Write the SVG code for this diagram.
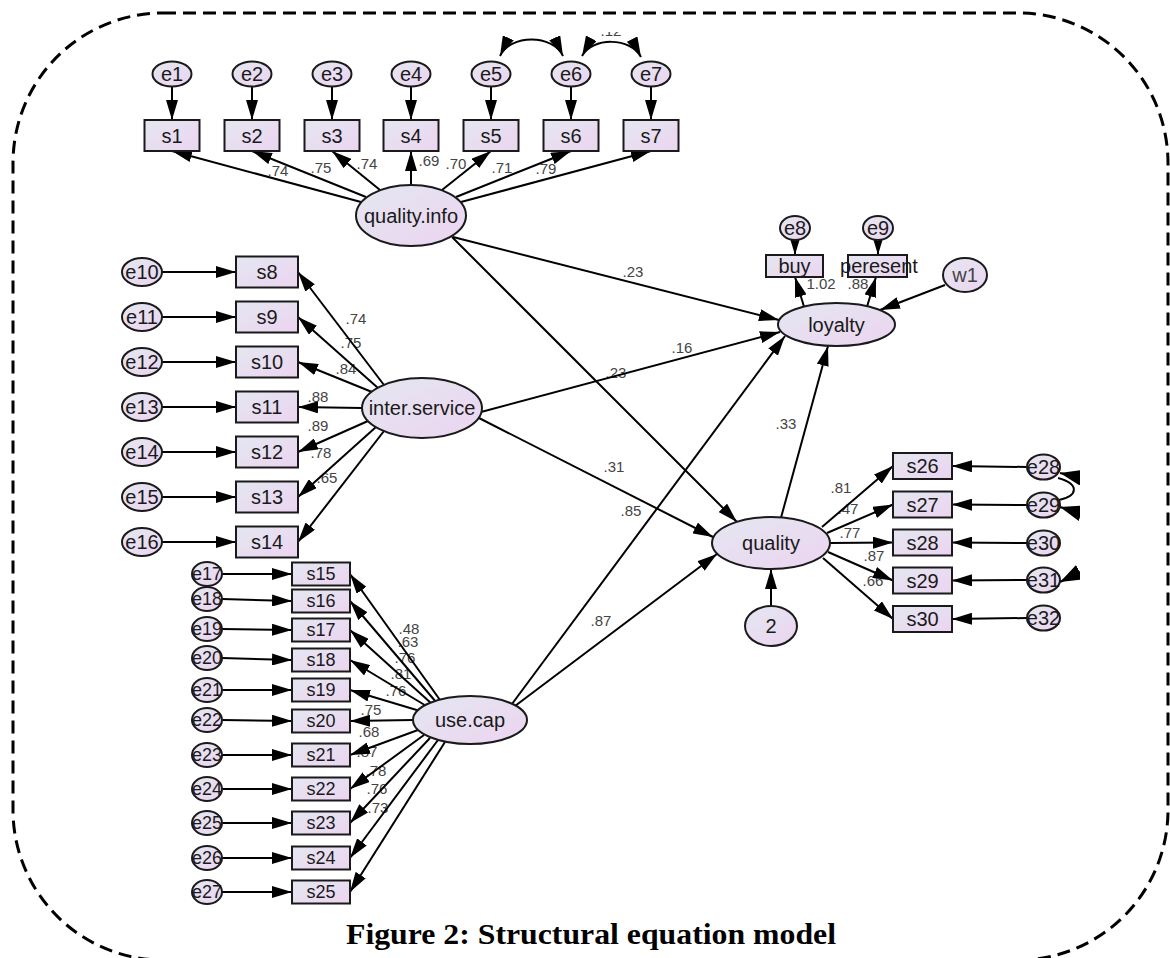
<svg xmlns="http://www.w3.org/2000/svg" width="1170" height="958" viewBox="0 0 1170 958">
<defs>
<linearGradient id="g" x1="0" y1="0" x2="1" y2="1">
<stop offset="0" stop-color="#e4e7f1"/>
<stop offset="1" stop-color="#ecd4f0"/>
</linearGradient>
<marker id="ah" viewBox="0 0 20 12" refX="20" refY="6" markerWidth="20" markerHeight="12" markerUnits="userSpaceOnUse" orient="auto">
<path d="M0,0 L20,6 L0,12 z" fill="#000"/>
</marker>
<marker id="ah2" viewBox="0 0 20 12" refX="20" refY="6" markerWidth="20" markerHeight="12" markerUnits="userSpaceOnUse" orient="auto-start-reverse">
<path d="M0,0 L20,6 L0,12 z" fill="#000"/>
</marker>
<marker id="ahb" viewBox="0 0 22 16" refX="22" refY="8" markerWidth="22" markerHeight="16" markerUnits="userSpaceOnUse" orient="auto">
<path d="M0,0 L22,8 L0,16 z" fill="#000"/>
</marker>
<clipPath id="clipR"><rect x="0" y="0" width="1080" height="958"/></clipPath>
<clipPath id="clipT"><rect x="0" y="32" width="1170" height="926"/></clipPath>
<style>
.n{fill:url(#g);stroke:#1a1a1a;stroke-width:2}
.t{font-family:"Liberation Sans",Arial,sans-serif;font-size:20px;fill:#1a1a1a;text-anchor:middle;dominant-baseline:central}
.ts{font-family:"Liberation Sans",Arial,sans-serif;font-size:18px;fill:#1a1a1a;text-anchor:middle;dominant-baseline:central}
.c{font-family:"Liberation Sans",Arial,sans-serif;font-size:15px;fill:#444;text-anchor:middle;dominant-baseline:central}
.l{stroke:#000;stroke-width:2;fill:none;marker-end:url(#ah)}
.lb{stroke:#000;stroke-width:2;fill:none;marker-end:url(#ahb)}
.b{stroke:#000;stroke-width:2;fill:none;marker-start:url(#ah2);marker-end:url(#ah2)}
.cap{font-family:"Liberation Serif","Times New Roman",serif;font-weight:bold;font-size:30px;fill:#000;text-anchor:middle}
</style>
</defs>
<rect x="13" y="13" width="1155" height="947" rx="150" ry="150" fill="none" stroke="#000" stroke-width="3" stroke-dasharray="13 7"/>

<g id="labels">
<text class="c" x="278" y="170">.74</text>
<text class="c" x="321" y="167">.75</text>
<text class="c" x="367" y="163">.74</text>
<text class="c" x="429" y="160">.69</text>
<text class="c" x="456" y="163">.70</text>
<text class="c" x="502" y="167">.71</text>
<text class="c" x="546" y="168">.79</text>
<text class="c" x="611" y="30" clip-path="url(#clipT)">.12</text>
<text class="c" x="356" y="318">.74</text>
<text class="c" x="351" y="342">.75</text>
<text class="c" x="346" y="368">.84</text>
<text class="c" x="318" y="396">.88</text>
<text class="c" x="318" y="425">.89</text>
<text class="c" x="321" y="452">.78</text>
<text class="c" x="327" y="477">.65</text>
<text class="c" x="409" y="628">.48</text>
<text class="c" x="408" y="641">.63</text>
<text class="c" x="405" y="657">.76</text>
<text class="c" x="401" y="673">.81</text>
<text class="c" x="396" y="690">.76</text>
<text class="c" x="371" y="709">.75</text>
<text class="c" x="369" y="731">.68</text>
<text class="c" x="367" y="751">.87</text>
<text class="c" x="376" y="770">.78</text>
<text class="c" x="377" y="788">.76</text>
<text class="c" x="378" y="807">.73</text>
<text class="c" x="633" y="271">.23</text>
<text class="c" x="682" y="347">.16</text>
<text class="c" x="616" y="372">.23</text>
<text class="c" x="614" y="466">.31</text>
<text class="c" x="631" y="510">.85</text>
<text class="c" x="601" y="620">.87</text>
<text class="c" x="786" y="423">.33</text>
<text class="c" x="821" y="283">1.02</text>
<text class="c" x="858" y="283">.88</text>
<text class="c" x="841" y="487">.81</text>
<text class="c" x="848" y="508">.47</text>
<text class="c" x="850" y="532">.77</text>
<text class="c" x="874" y="555">.87</text>
<text class="c" x="873" y="580">.66</text>
</g>

<g id="connectors">
<path class="l" d="M172,86.5 L172,120"/>
<path class="l" d="M252,86.5 L252,120"/>
<path class="l" d="M332,86.5 L332,120"/>
<path class="l" d="M411,86.5 L411,120"/>
<path class="l" d="M491,86.5 L491,120"/>
<path class="l" d="M571,86.5 L571,120"/>
<path class="l" d="M651,86.5 L651,120"/>
<path class="b" d="M500,56 C510,34 553,34 563,56"/>
<path class="b" d="M582,56 C592,37 631,37 641,57"/>
<path class="l" d="M361,202 L172,151"/>
<path class="l" d="M366,197 L252,151"/>
<path class="l" d="M380,190 L332,151"/>
<path class="l" d="M411,185 L411,151"/>
<path class="l" d="M442,190 L491,151"/>
<path class="l" d="M456,197 L571,151"/>
<path class="l" d="M461,202 L651,151"/>
<path class="l" d="M162,272 L236,272"/>
<path class="l" d="M162,317 L236,317"/>
<path class="l" d="M162,362 L236,362"/>
<path class="l" d="M162,407 L236,407"/>
<path class="l" d="M162,452 L236,452"/>
<path class="l" d="M162,497 L236,497"/>
<path class="l" d="M162,542 L236,542"/>
<path class="l" d="M384,385 L298,272"/>
<path class="l" d="M378,388 L298,317"/>
<path class="l" d="M372,392 L298,362"/>
<path class="l" d="M362,408 L298,407"/>
<path class="l" d="M368,421 L298,452"/>
<path class="l" d="M376,427 L298,497"/>
<path class="l" d="M384,431 L298,542"/>
<path class="l" d="M222,574 L292,574"/>
<path class="l" d="M222,599 L292,601"/>
<path class="l" d="M222,629 L292,630"/>
<path class="l" d="M222,658 L292,660"/>
<path class="l" d="M222,690 L292,690"/>
<path class="l" d="M222,720 L292,721"/>
<path class="l" d="M222,755 L292,755"/>
<path class="l" d="M222,789 L292,789"/>
<path class="l" d="M222,823 L292,823"/>
<path class="l" d="M222,858 L292,858"/>
<path class="l" d="M222,892 L292,892"/>
<path class="l" d="M440,700 L350,574"/>
<path class="l" d="M436,702 L350,601"/>
<path class="l" d="M432,704 L350,630"/>
<path class="l" d="M428,707 L350,660"/>
<path class="l" d="M420,711 L350,690"/>
<path class="l" d="M413,720 L350,721"/>
<path class="l" d="M418,730 L350,755"/>
<path class="l" d="M424,735 L350,789"/>
<path class="l" d="M430,738 L350,823"/>
<path class="l" d="M438,740 L350,858"/>
<path class="l" d="M445,742 L350,892"/>
<path class="l" d="M453,237 L779,320"/>
<path class="l" d="M452,237 L737,522"/>
<path class="l" d="M481,412 L780,332"/>
<path class="l" d="M479,418 L713,537"/>
<path class="l" d="M509,708 L785,336"/>
<path class="l" d="M515,706 L717,554"/>
<path class="l" d="M779,525 L828,346"/>
<path class="l" d="M771,606 L771,569"/>
<path class="l" d="M945,285 L880,310"/>
<path class="l" d="M795,240 L795,255"/>
<path class="l" d="M878,240 L878,255"/>
<path class="l" d="M805,310 L795,277"/>
<path class="l" d="M866,310 L876,277"/>
<path class="l" d="M822,527 L893,466"/>
<path class="l" d="M827,533 L893,504.5"/>
<path class="l" d="M830,543 L893,542.5"/>
<path class="l" d="M828,552 L893,580.5"/>
<path class="l" d="M823,558 L893,619"/>
<path class="l" d="M1027,467 L952,466"/>
<path class="l" d="M1027,505 L952,504.5"/>
<path class="l" d="M1027,543 L952,542.5"/>
<path class="l" d="M1027,580 L952,580.5"/>
<path class="l" d="M1027,618 L952,619"/>
<g clip-path="url(#clipR)">
<path d="M1058,478 C1080,484 1078,496 1059,500" stroke="#000" stroke-width="2" fill="none"/>
<path class="lb" d="M1110,484 L1060,473"/>
<path class="lb" d="M1110,522 L1060,507"/>
<path class="lb" d="M1100,562 L1060,582"/>
</g>
</g>

<g id="e1"><ellipse class="n" cx="172" cy="74" rx="19.5" ry="12.5"/><text class="t" x="172" y="74">e1</text></g>
<g id="e2"><ellipse class="n" cx="252" cy="74" rx="19.5" ry="12.5"/><text class="t" x="252" y="74">e2</text></g>
<g id="e3"><ellipse class="n" cx="332" cy="74" rx="19.5" ry="12.5"/><text class="t" x="332" y="74">e3</text></g>
<g id="e4"><ellipse class="n" cx="411" cy="74" rx="19.5" ry="12.5"/><text class="t" x="411" y="74">e4</text></g>
<g id="e5"><ellipse class="n" cx="491" cy="74" rx="19.5" ry="12.5"/><text class="t" x="491" y="74">e5</text></g>
<g id="e6"><ellipse class="n" cx="571" cy="74" rx="19.5" ry="12.5"/><text class="t" x="571" y="74">e6</text></g>
<g id="e7"><ellipse class="n" cx="651" cy="74" rx="19.5" ry="12.5"/><text class="t" x="651" y="74">e7</text></g>
<g id="s1"><rect class="n" x="144.5" y="120" width="55" height="31"/><text class="t" x="172" y="135.5">s1</text></g>
<g id="s2"><rect class="n" x="224.5" y="120" width="55" height="31"/><text class="t" x="252" y="135.5">s2</text></g>
<g id="s3"><rect class="n" x="304.5" y="120" width="55" height="31"/><text class="t" x="332" y="135.5">s3</text></g>
<g id="s4"><rect class="n" x="383.5" y="120" width="55" height="31"/><text class="t" x="411" y="135.5">s4</text></g>
<g id="s5"><rect class="n" x="463.5" y="120" width="55" height="31"/><text class="t" x="491" y="135.5">s5</text></g>
<g id="s6"><rect class="n" x="543.5" y="120" width="55" height="31"/><text class="t" x="571" y="135.5">s6</text></g>
<g id="s7"><rect class="n" x="623.5" y="120" width="55" height="31"/><text class="t" x="651" y="135.5">s7</text></g>
<g id="quality.info"><ellipse class="n" cx="411" cy="215.5" rx="55" ry="30.5"/><text class="t" x="411" y="215.5">quality.info</text></g>

<g id="e10"><ellipse class="n" cx="142" cy="272" rx="20" ry="14"/><text class="t" x="142" y="272">e10</text></g>
<g id="e11"><ellipse class="n" cx="142" cy="317" rx="20" ry="14"/><text class="t" x="142" y="317">e11</text></g>
<g id="e12"><ellipse class="n" cx="142" cy="362" rx="20" ry="14"/><text class="t" x="142" y="362">e12</text></g>
<g id="e13"><ellipse class="n" cx="142" cy="407" rx="20" ry="14"/><text class="t" x="142" y="407">e13</text></g>
<g id="e14"><ellipse class="n" cx="142" cy="452" rx="20" ry="14"/><text class="t" x="142" y="452">e14</text></g>
<g id="e15"><ellipse class="n" cx="142" cy="497" rx="20" ry="14"/><text class="t" x="142" y="497">e15</text></g>
<g id="e16"><ellipse class="n" cx="142" cy="542" rx="20" ry="14"/><text class="t" x="142" y="542">e16</text></g>
<g id="s8"><rect class="n" x="236" y="256.5" width="62" height="31"/><text class="t" x="267" y="272">s8</text></g>
<g id="s9"><rect class="n" x="236" y="301.5" width="62" height="31"/><text class="t" x="267" y="317">s9</text></g>
<g id="s10"><rect class="n" x="236" y="346.5" width="62" height="31"/><text class="t" x="267" y="362">s10</text></g>
<g id="s11"><rect class="n" x="236" y="391.5" width="62" height="31"/><text class="t" x="267" y="407">s11</text></g>
<g id="s12"><rect class="n" x="236" y="436.5" width="62" height="31"/><text class="t" x="267" y="452">s12</text></g>
<g id="s13"><rect class="n" x="236" y="481.5" width="62" height="31"/><text class="t" x="267" y="497">s13</text></g>
<g id="s14"><rect class="n" x="236" y="526.5" width="62" height="31"/><text class="t" x="267" y="542">s14</text></g>
<g id="inter.service"><ellipse class="n" cx="422" cy="408" rx="60" ry="30"/><text class="t" x="422" y="408">inter.service</text></g>

<g id="e17"><ellipse class="n" cx="207" cy="574" rx="15" ry="12"/><text class="ts" x="207" y="574">e17</text></g>
<g id="e18"><ellipse class="n" cx="207" cy="599" rx="15" ry="12"/><text class="ts" x="207" y="599">e18</text></g>
<g id="e19"><ellipse class="n" cx="207" cy="629" rx="15" ry="12"/><text class="ts" x="207" y="629">e19</text></g>
<g id="e20"><ellipse class="n" cx="207" cy="658" rx="15" ry="12"/><text class="ts" x="207" y="658">e20</text></g>
<g id="e21"><ellipse class="n" cx="207" cy="690" rx="15" ry="12"/><text class="ts" x="207" y="690">e21</text></g>
<g id="e22"><ellipse class="n" cx="207" cy="720" rx="15" ry="12"/><text class="ts" x="207" y="720">e22</text></g>
<g id="e23"><ellipse class="n" cx="207" cy="755" rx="15" ry="12"/><text class="ts" x="207" y="755">e23</text></g>
<g id="e24"><ellipse class="n" cx="207" cy="789" rx="15" ry="12"/><text class="ts" x="207" y="789">e24</text></g>
<g id="e25"><ellipse class="n" cx="207" cy="823" rx="15" ry="12"/><text class="ts" x="207" y="823">e25</text></g>
<g id="e26"><ellipse class="n" cx="207" cy="858" rx="15" ry="12"/><text class="ts" x="207" y="858">e26</text></g>
<g id="e27"><ellipse class="n" cx="207" cy="892" rx="15" ry="12"/><text class="ts" x="207" y="892">e27</text></g>
<g id="s15"><rect class="n" x="292" y="562.5" width="58" height="23"/><text class="ts" x="321" y="574">s15</text></g>
<g id="s16"><rect class="n" x="292" y="589.5" width="58" height="23"/><text class="ts" x="321" y="601">s16</text></g>
<g id="s17"><rect class="n" x="292" y="618.5" width="58" height="23"/><text class="ts" x="321" y="630">s17</text></g>
<g id="s18"><rect class="n" x="292" y="648.5" width="58" height="23"/><text class="ts" x="321" y="660">s18</text></g>
<g id="s19"><rect class="n" x="292" y="678.5" width="58" height="23"/><text class="ts" x="321" y="690">s19</text></g>
<g id="s20"><rect class="n" x="292" y="709.5" width="58" height="23"/><text class="ts" x="321" y="721">s20</text></g>
<g id="s21"><rect class="n" x="292" y="743.5" width="58" height="23"/><text class="ts" x="321" y="755">s21</text></g>
<g id="s22"><rect class="n" x="292" y="777.5" width="58" height="23"/><text class="ts" x="321" y="789">s22</text></g>
<g id="s23"><rect class="n" x="292" y="811.5" width="58" height="23"/><text class="ts" x="321" y="823">s23</text></g>
<g id="s24"><rect class="n" x="292" y="846.5" width="58" height="23"/><text class="ts" x="321" y="858">s24</text></g>
<g id="s25"><rect class="n" x="292" y="880.5" width="58" height="23"/><text class="ts" x="321" y="892">s25</text></g>
<g id="use.cap"><ellipse class="n" cx="470" cy="720" rx="57" ry="24"/><text class="t" x="470" y="720">use.cap</text></g>

<g id="e8"><ellipse class="n" cx="795" cy="228" rx="15" ry="12"/><text class="t" x="795" y="228">e8</text></g>
<g id="e9"><ellipse class="n" cx="878" cy="228" rx="15" ry="12"/><text class="t" x="878" y="228">e9</text></g>
<g id="buy"><rect class="n" x="766" y="255" width="57" height="22"/><text class="t" x="794.5" y="266">buy</text></g>
<g id="peresent"><rect class="n" x="848" y="255" width="59" height="22"/><text class="t" x="879" y="266">peresent</text></g>
<g id="w1"><ellipse class="n" cx="965" cy="275" rx="22" ry="17"/><text class="t" x="965" y="275" style="fill:#444">w1</text></g>
<g id="loyalty"><ellipse class="n" cx="836.5" cy="324.5" rx="58.5" ry="21.5"/><text class="t" x="836.5" y="324.5">loyalty</text></g>
<g id="quality"><ellipse class="n" cx="771" cy="543" rx="59" ry="26"/><text class="t" x="771" y="543">quality</text></g>
<g id="d2"><ellipse class="n" cx="771" cy="626" rx="26" ry="20"/><text class="t" x="771" y="626">2</text></g>

<g id="s26"><rect class="n" x="893" y="453" width="59" height="26"/><text class="t" x="922.5" y="466">s26</text></g>
<g id="s27"><rect class="n" x="893" y="491.5" width="59" height="26"/><text class="t" x="922.5" y="504.5">s27</text></g>
<g id="s28"><rect class="n" x="893" y="529.5" width="59" height="26"/><text class="t" x="922.5" y="542.5">s28</text></g>
<g id="s29"><rect class="n" x="893" y="567.5" width="59" height="26"/><text class="t" x="922.5" y="580.5">s29</text></g>
<g id="s30"><rect class="n" x="893" y="606" width="59" height="26"/><text class="t" x="922.5" y="619">s30</text></g>
<g id="e28"><ellipse class="n" cx="1043.5" cy="467" rx="16.5" ry="12.5"/><text class="t" x="1043.5" y="467">e28</text></g>
<g id="e29"><ellipse class="n" cx="1043.5" cy="505" rx="16.5" ry="12.5"/><text class="t" x="1043.5" y="505">e29</text></g>
<g id="e30"><ellipse class="n" cx="1043.5" cy="543" rx="16.5" ry="12.5"/><text class="t" x="1043.5" y="543">e30</text></g>
<g id="e31"><ellipse class="n" cx="1043.5" cy="580" rx="16.5" ry="12.5"/><text class="t" x="1043.5" y="580">e31</text></g>
<g id="e32"><ellipse class="n" cx="1043.5" cy="618" rx="16.5" ry="12.5"/><text class="t" x="1043.5" y="618">e32</text></g>

<text class="cap" x="591" y="944" textLength="490" lengthAdjust="spacingAndGlyphs">Figure 2: Structural equation model</text>
</svg>
